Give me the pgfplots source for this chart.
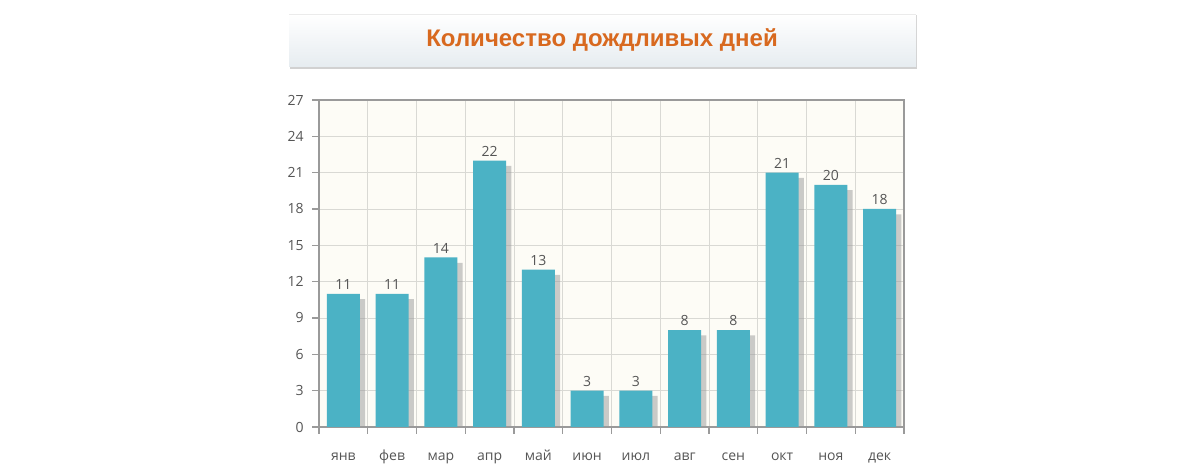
\documentclass[border=0pt]{standalone}
\usepackage{pgfplots}
\pgfplotsset{compat=1.18}
\usepackage{fontspec}
\setmainfont{Open Sans}
\newfontfamily\titlefont{Liberation Sans}
\usetikzlibrary{shadows}
\definecolor{barc}{HTML}{4BB2C5}
\definecolor{titlec}{HTML}{D8691F}
\definecolor{txt}{HTML}{555555}
\definecolor{bg}{HTML}{FDFCF6}
\definecolor{gridc}{HTML}{D9D9D4}
\definecolor{framec}{HTML}{9A9A9A}
\definecolor{boxbot}{HTML}{E6ECF0}
\begin{document}
\begin{tikzpicture}[x=0.75pt,y=0.75pt]
\path[use as bounding box] (0,0) rectangle (1201,470);
% title box
\fill[black!18] (290,470-69) rectangle (917,470-15);
\shade[top color=white, bottom color=boxbot] (289,470-67) rectangle (916,470-14);
\draw[black!8] (289,470-14) -- (916,470-14);
\node[font=\titlefont\fontsize{18}{20}\selectfont\bfseries, text=titlec] at (602,470-40) {Количество дождливых дней};
\begin{axis}[
  at={(239.25pt,32.25pt)}, anchor=south west,
  scale only axis, width=438.75pt, height=245.25pt,
  xmin=-0.5, xmax=11.5, ymin=0, ymax=27,
  ytick={0,3,...,27},
  xtick={0,...,11},
  xticklabels={янв,фев,мар,апр,май,июн,июл,авг,сен,окт,ноя,дек},
  minor xtick={-0.5,0.5,...,11.5},
  xminorgrids=true, ymajorgrids=true,
  major x tick style={draw=none},
  minor x tick style={framec, line width=1pt},
  major y tick style={framec, line width=1pt},
  tick align=outside, major tick length=5pt, minor tick length=5pt,
  xtick pos=bottom, ytick pos=left,
  grid style={gridc, line width=0.6pt},
  minor grid style={gridc, line width=0.6pt},
  axis background/.style={fill=bg},
  axis line style={framec, line width=1.6pt},
  /pgf/number format/assume math mode=true,
  ticklabel style={font=\fontsize{10.5}{12}\selectfont, text=txt},
  xticklabel style={anchor=north, text height=1.6ex, text depth=0.3ex, yshift=-8pt},
  yticklabel style={xshift=-3pt},
  nodes near coords,
  every node near coord/.append style={font=\fontsize{10.5}{12}\selectfont, text=txt, inner sep=3pt},
  ybar, bar width=24.75pt,
]
\addplot[fill=barc, draw=none, drop shadow={shadow xshift=4pt, shadow yshift=-4pt, fill=black!40, opacity=0.5}] coordinates {
(0,11) (1,11) (2,14) (3,22) (4,13) (5,3) (6,3) (7,8) (8,8) (9,21) (10,20) (11,18)};
\end{axis}
\end{tikzpicture}
\end{document}
